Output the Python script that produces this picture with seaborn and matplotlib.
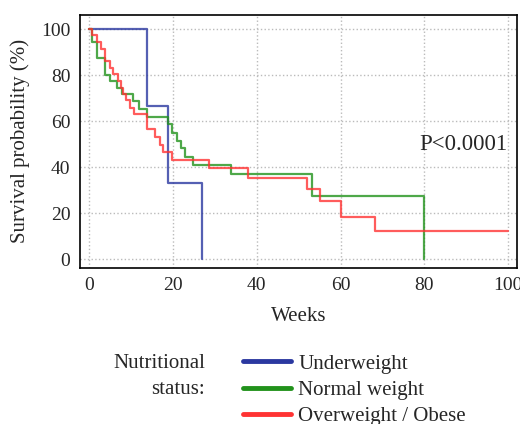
import numpy as np
import pandas as pd
import seaborn as sns
import matplotlib.pyplot as plt
from matplotlib.lines import Line2D

# curvas de Kaplan-Meier (semanas, % sobrevivencia)
under_t = [0, 13.9, 18.8, 26.9]
under_s = [100, 66.7, 33.3, 0]

normal_t = [0, 0.8, 1.8, 3.8, 4.9, 6.6, 7.8, 10.6, 12.0, 13.8, 18.8, 19.7,
            20.9, 21.9, 22.9, 24.9, 33.8, 53.2, 79.8]
normal_s = [100, 94.6, 87.7, 80.1, 77.5, 74.3, 71.9, 68.8, 65.3, 62.0, 58.7, 55.0,
            51.6, 48.3, 44.6, 41.0, 37.1, 27.7, 0]

over_t = [0, 0.6, 1.8, 2.8, 3.8, 4.9, 5.8, 7.0, 7.6, 8.2, 8.8, 9.8, 10.7,
          13.8, 15.8, 17.0, 17.7, 19.7, 28.7, 38.0, 52.0, 55.0, 60.1, 68.3, 100]
over_s = [100, 97.5, 94.6, 91.3, 86.2, 83.0, 80.6, 77.5, 74.3, 71.9, 69.3, 65.7, 63.2,
          56.5, 53.3, 49.7, 46.8, 43.2, 39.6, 35.2, 30.4, 25.5, 18.5, 12.4, 12.4]

grupos = ["Underweight", "Normal weight", "Overweight / Obese"]
cores = ["#2b38a0", "#22921c", "#ff3333"]

df = pd.concat([
    pd.DataFrame({"semanas": under_t, "sobrev": under_s, "grupo": grupos[0]}),
    pd.DataFrame({"semanas": normal_t, "sobrev": normal_s, "grupo": grupos[1]}),
    pd.DataFrame({"semanas": over_t, "sobrev": over_s, "grupo": grupos[2]}),
])

sns.set_style("white")
plt.rcParams['font.family'] = ['Liberation Serif', 'DejaVu Serif']

fig = plt.figure(figsize=(5.2, 4.24), dpi=100)
ax = fig.add_axes([0.1538, 0.3686, 0.8413, 0.596])

sns.lineplot(data=df, x="semanas", y="sobrev", hue="grupo", hue_order=grupos,
             palette=cores, estimator=None, sort=False, drawstyle="steps-post",
             linewidth=1.6, alpha=0.8, legend=False, ax=ax)

ax.set_xlim(-2.15, 102.2)
ax.set_ylim(-3.65, 106.2)
ax.set_xticks(range(0, 101, 20))
ax.set_xticks(range(10, 100, 20), minor=True)
ax.set_yticks(range(0, 101, 20))
ax.set_yticks(range(10, 100, 20), minor=True)
ax.tick_params(which="both", direction="in", width=1, labelsize=14, color="black", pad=7)
ax.tick_params(which="major", length=6)
ax.tick_params(which="minor", length=3)
ax.grid(True, which="major", linestyle=":", color="#bbbbbb", linewidth=1)
for s in ax.spines.values():
    s.set_color("black")
    s.set_linewidth(1.2)

ax.set_xlabel("Weeks", fontsize=15, labelpad=9)
ax.set_ylabel("Survival probability (%)", fontsize=15, labelpad=8)
ax.text(99.8, 50, "P<0.0001", ha="right", va="center", fontsize=16.5)

# legenda
handles = [Line2D([0], [0], color=c, lw=3.5) for c in cores]
fig.legend(handles, grupos, loc="upper left", bbox_to_anchor=(243 / 520, 1 - 354 / 424),
           frameon=False, borderpad=0, borderaxespad=0, handlelength=2.3,
           handletextpad=0.35, labelspacing=0.33, fontsize=15)
fig.text(205 / 520, 1 - 364 / 424, "Nutritional", ha="right", va="center", fontsize=15)
fig.text(205 / 520, 1 - 390 / 424, "status:", ha="right", va="center", fontsize=15)

fig.savefig("out.png", dpi=100)
